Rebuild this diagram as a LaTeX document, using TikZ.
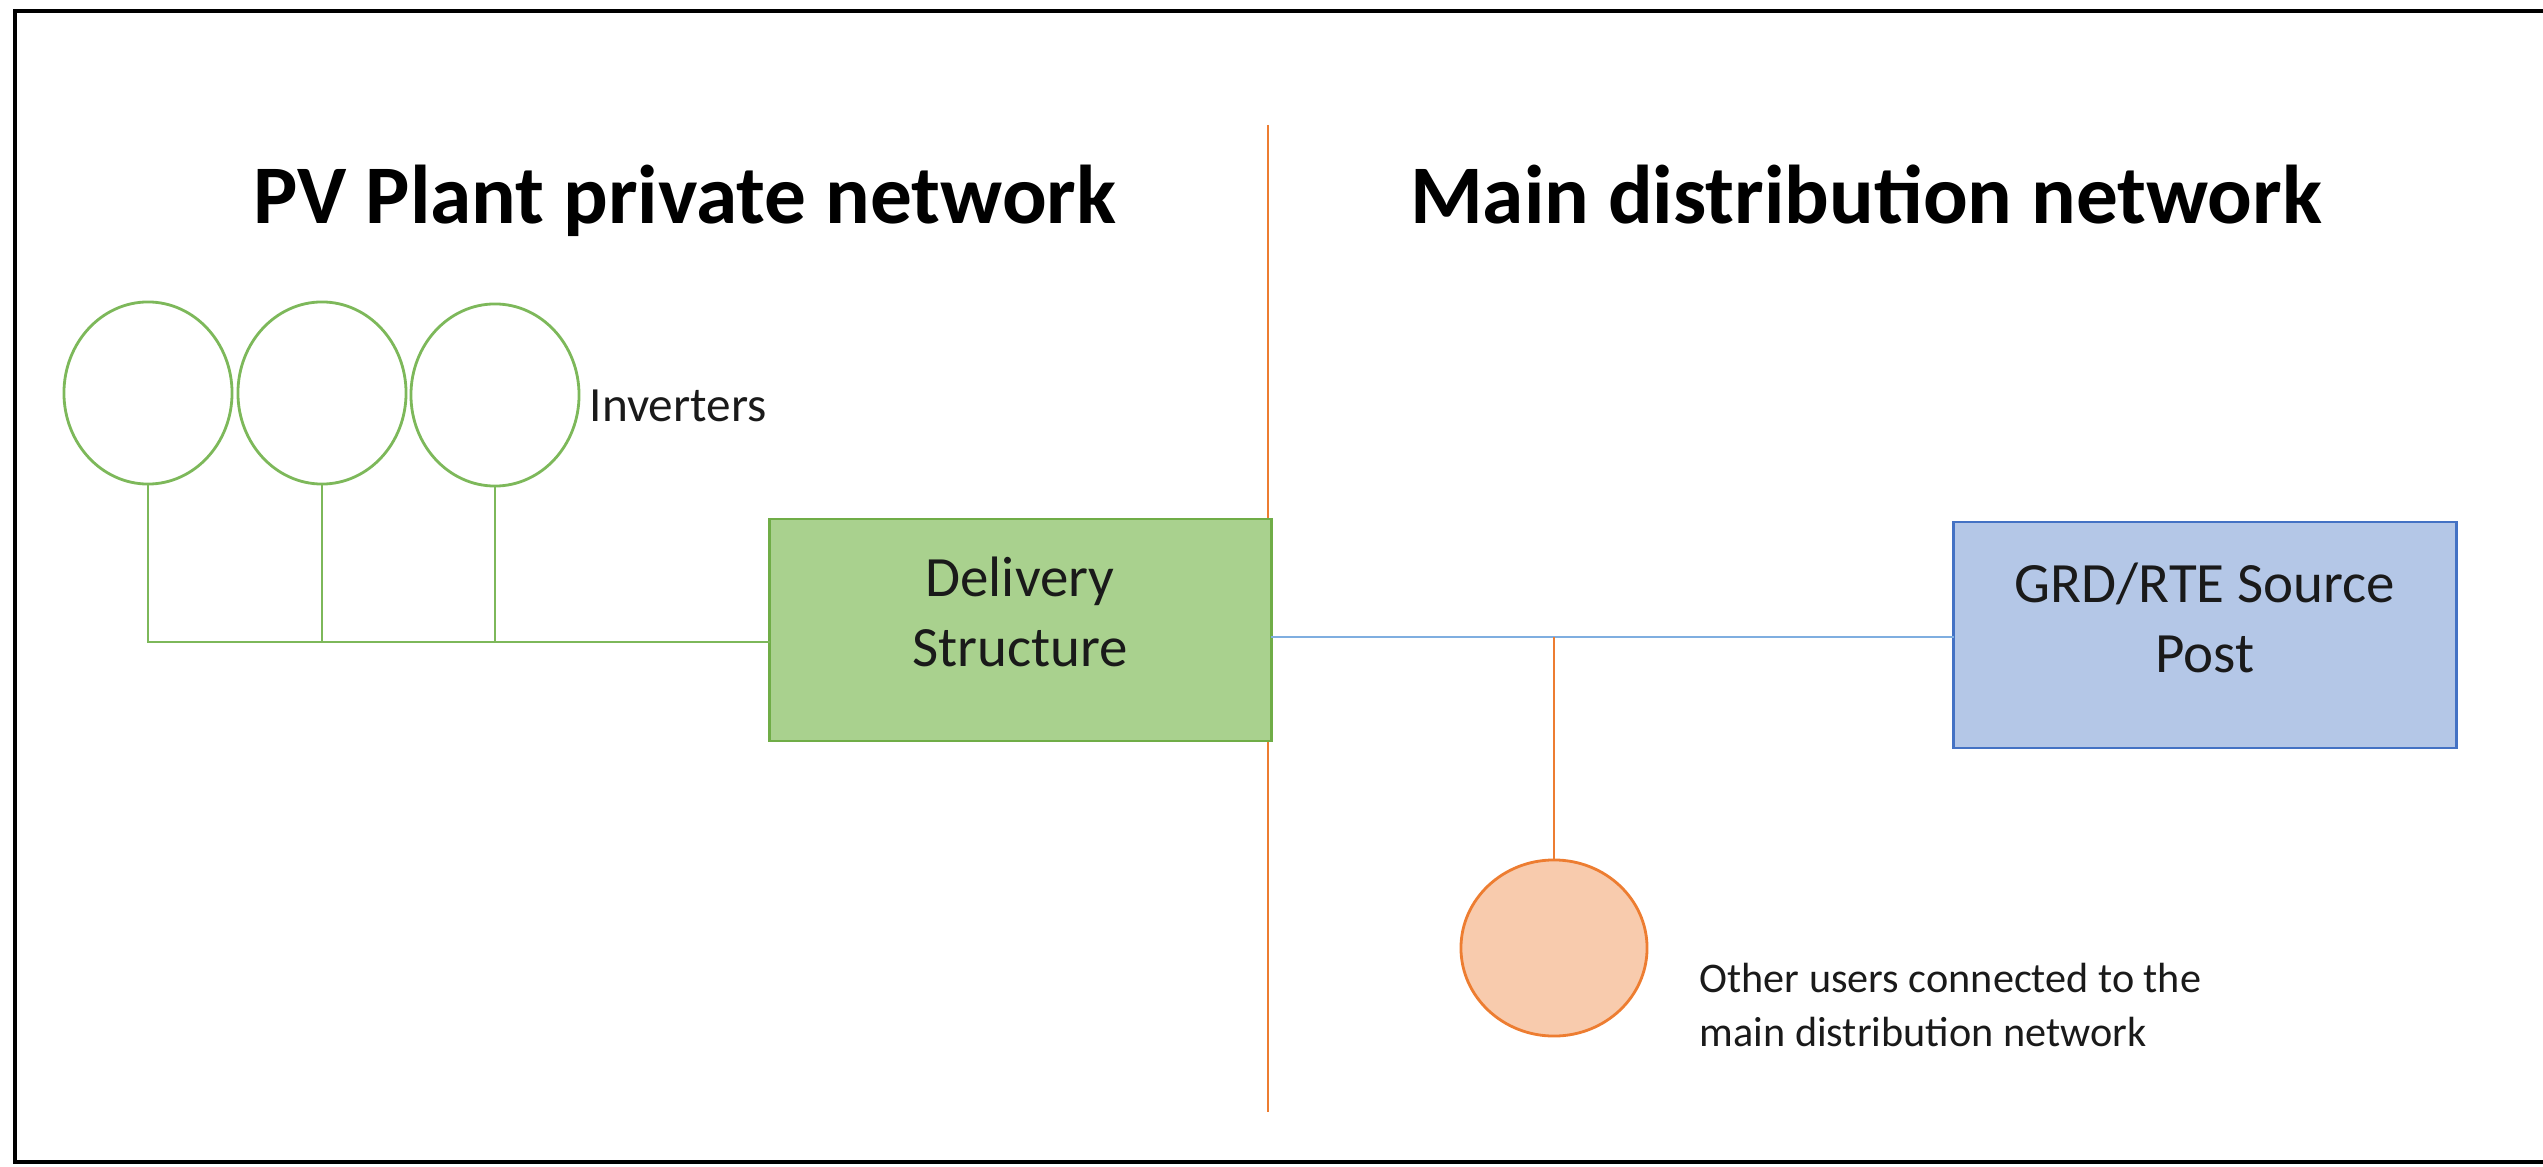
\documentclass[tikz,border=0pt]{standalone}
\usepackage{fontspec}
\setmainfont{Carlito}
\usetikzlibrary{shapes.geometric}
\definecolor{gline}{HTML}{7DB85A}
\definecolor{gfill}{HTML}{A9D18E}
\definecolor{gbord}{HTML}{70AD47}
\definecolor{oline}{HTML}{ED7D31}
\definecolor{ofill}{HTML}{F8CBAD}
\definecolor{bline}{HTML}{7FAEE0}
\definecolor{bfill}{HTML}{B4C7E7}
\definecolor{bbord}{HTML}{4472C4}
\definecolor{txt}{HTML}{1A1A1A}
\begin{document}
\begin{tikzpicture}[x=0.01cm,y=-0.01cm,
  frame/.style={line width=1.2pt,black},
  title/.style={anchor=base,font=\fontsize{23.7}{28}\selectfont\bfseries,text=black,inner sep=0},
  inv/.style={ellipse,draw=gline,line width=0.8pt,minimum width=1.68cm,minimum height=1.82cm,inner sep=0},
  gwire/.style={draw=gline,line width=0.8pt},
  dbox/.style={rectangle,draw=gbord,fill=gfill,line width=0.8pt,minimum width=5.01cm,minimum height=2.22cm,inner sep=0},
  bbox/.style={rectangle,draw=bbord,fill=bfill,line width=0.8pt,minimum width=5.02cm,minimum height=2.26cm,inner sep=0},
  boxtext/.style={align=center,font=\fontsize{16.2}{20}\selectfont,text=txt,inner sep=0},
  owire/.style={draw=oline,line width=0.7pt},
  bwire/.style={draw=bline,line width=0.8pt},
  user/.style={ellipse,draw=oline,fill=ofill,line width=0.8pt,minimum width=1.86cm,minimum height=1.76cm,inner sep=0},
  small/.style={font=\fontsize{14}{16}\selectfont,text=txt,inner sep=0},
  note/.style={align=left,font=\fontsize{12}{15.4}\selectfont,text=txt,inner sep=0}]
\useasboundingbox (0,0) rectangle (2543,1167);
% frame
\coordinate (ftr) at (2543,11);
\coordinate (ftl) at (15,11);
\coordinate (fbl) at (15,1162);
\coordinate (fbr) at (2543,1162);
\draw[frame] (ftr) -- (ftl) -- (fbl) -- (fbr);
% titles
\node[title] (t1) at (685,224) {PV Plant private network};
\node[title] (t2) at (1866,224) {Main distribution network};
% divider
\coordinate (dtop) at (1268,125);
\coordinate (dbot) at (1268,1112);
\draw[owire] (dtop) -- (dbot);
% inverters
\node[inv] (i1) at (148,393) {};
\node[inv] (i2) at (322,393) {};
\node[inv] (i3) at (495,395) {};
\node[small,anchor=west] (invl) at (589,406) {Inverters};
% delivery structure
\node[dbox] (ds) at (1020.5,630) {};
\node[boxtext] (dst) at (1020,612) {Delivery\\Structure};
\coordinate (busE) at (770,642);
\draw[gwire] (i1.south) |- (busE);
\draw[gwire] (i2.south) -- (i2.south |- busE);
\draw[gwire] (i3.south) -- (i3.south |- busE);
% GRD / RTE
\node[bbox] (grd) at (2205,635) {};
\node[boxtext] (grdt) at (2205,618) {GRD/RTE Source\\Post};
\coordinate (blueL) at (1271,637);
\coordinate (blueR) at (1954,637);
\draw[bwire] (blueL) -- (blueR);
% other users
\node[user] (ou) at (1554,948) {};
\coordinate (tap) at (1554,637);
\draw[owire] (tap) -- (ou.north);
\node[note,anchor=north west] (oul) at (1699,962) {Other users connected to the\\main distribution network};
\end{tikzpicture}
\end{document}
